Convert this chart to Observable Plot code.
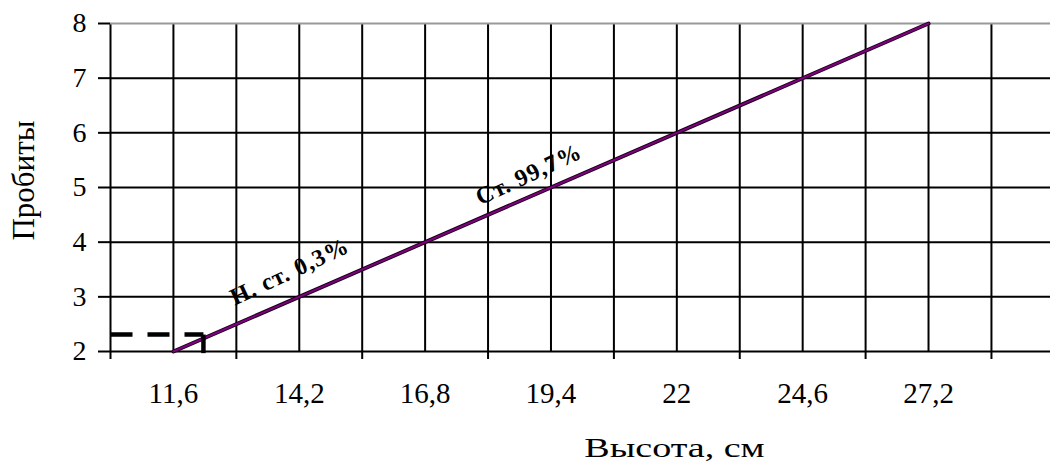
<!DOCTYPE html>
<html><head><meta charset="utf-8">
<script src="https://cdn.jsdelivr.net/npm/d3@7"></script>
<script src="https://cdn.jsdelivr.net/npm/@observablehq/plot@0.6"></script>
<style>body{margin:0;background:#fff} svg{display:block}</style>
</head><body><div id="chart"></div>
<script>
const xLabels = [11.6, 14.2, 16.8, 19.4, 22, 24.6, 27.2];
const xTickMarks = [10.3, 12.9, 15.5, 18.1, 20.7, 23.3, 25.9, 28.5];
const xGrid = [10.3, 11.6, 12.9, 14.2, 15.5, 16.8, 18.1, 19.4, 20.7, 22, 23.3, 24.6, 25.9, 27.2, 28.5];
const yTicks = [2, 3, 4, 5, 6, 7, 8];
const lineX = [11.6, 27.2];
const lineY = [2, 8];
const dashSeg = ["h", "h", "v", "v"];
const dashX = [10.3, 12.22, 12.22, 12.22];
const dashY = [2.31, 2.31, 2.31, 1.97];
const labelText = ["Н. ст. 0,3%", "Ст. 99,7%"];
const labelX = [14.0, 18.94];
const labelY = [3.46, 5.24];
const xTitle = "Высота, см";
const yTitle = "Пробиты";

const fmt = d => String(d).replace(".", ",");
const serif = "'Liberation Serif', 'Times New Roman', serif";
const lineData = lineX.map((x, i) => ({x, y: lineY[i]}));
const dashData = dashX.map((x, i) => ({x, y: dashY[i], seg: dashSeg[i]}));
const labels = labelText.map((t, i) => ({t, x: labelX[i], y: labelY[i]}));

const chart = Plot.plot({
  width: 1050, height: 463,
  marginLeft: 110, marginRight: 0, marginTop: 23, marginBottom: 112,
  style: {fontFamily: serif, background: "#fff", color: "#000"},
  x: {domain: [10.3, 29.72]},
  y: {domain: [2, 8]},
  marks: [
    Plot.ruleX(xGrid, {stroke: "#000", strokeWidth: 2}),
    Plot.ruleY(yTicks.filter(d => d < 8), {stroke: "#000", strokeWidth: 2}),
    Plot.ruleY([8], {stroke: "#999", strokeWidth: 2}),
    Plot.line(lineData, {x: "x", y: "y", stroke: "#1a001a", strokeWidth: 4}),
    Plot.line(lineData, {x: "x", y: "y", stroke: "#800080", strokeWidth: 2}),
    Plot.text(labels, {x: "x", y: "y", text: "t", rotate: -25, fontWeight: "bold", fontSize: 24, fill: "#000"}),
    Plot.line(dashData, {x: "x", y: "y", z: "seg", stroke: "#000", strokeWidth: 4.5, strokeDasharray: "22,15", strokeLinecap: "butt"}),
    Plot.axisY({ticks: yTicks, tickSize: 12, tickPadding: 12, fontSize: 28, strokeWidth: 2, label: null, tickFormat: fmt}),
    Plot.axisX({ticks: xTickMarks, tickSize: 8, strokeWidth: 2, tickFormat: () => "", label: null}),
    Plot.axisX({ticks: xLabels, tickSize: 0, tickPadding: 31, fontSize: 29, tickFormat: fmt, label: null}),
    Plot.text([xTitle], {frameAnchor: "bottom", textAnchor: "middle", lineAnchor: "bottom", dx: 94, dy: 105, fontSize: 28, fill: "#000"}),
    Plot.text([yTitle], {frameAnchor: "left", textAnchor: "middle", lineAnchor: "bottom", rotate: -90, dx: -77, dy: -7, fontSize: 31, fill: "#000"})
  ]
});
const root = d3.select(chart);
root.selectAll("text").filter(function() { return labelText.includes(this.textContent); }).style("letter-spacing", "1px");
root.selectAll("text").filter(function() { return this.textContent === xTitle; })
  .attr("transform", function() { return (this.getAttribute("transform") || "") + " scale(1.36,1)"; });
document.getElementById("chart").appendChild(chart);
</script>
</body></html>
